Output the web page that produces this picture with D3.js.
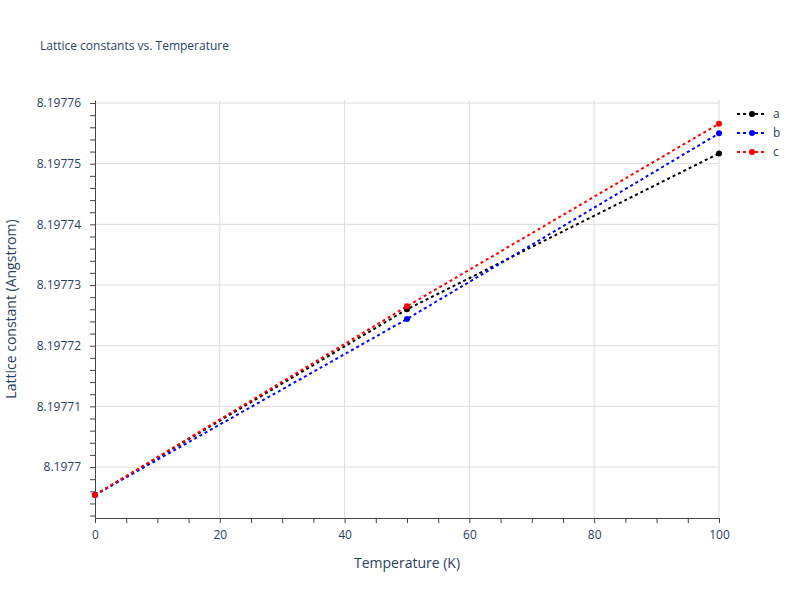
<!DOCTYPE html>
<html>
<head>
<meta charset="utf-8">
<script src="https://cdn.jsdelivr.net/npm/d3@7"></script>
<style>
body { margin: 0; background: #fff; }
text { font-family: "Open Sans", Arial, sans-serif; fill: #2a3f5f; }
</style>
</head>
<body>
<div id="chart"></div>
<script>
// data
const temperatures = [0, 50, 100];
const seriesNames = ['a', 'b', 'c'];
const seriesColors = ['black', 'blue', 'red'];
const valuesA = [8.1976954, 8.1977260, 8.1977517];
const valuesB = [8.1976954, 8.1977244, 8.1977550];
const valuesC = [8.1976954, 8.1977265, 8.1977566];
const xTicks = [0, 20, 40, 60, 80, 100];
const yTicks = [8.1977, 8.19771, 8.19772, 8.19773, 8.19774, 8.19775, 8.19776];

const width = 800, height = 600;
const margin = {top: 100, bottom: 82, left: 95, right: 81};
const allSeries = [valuesA, valuesB, valuesC];

const svg = d3.select('#chart').append('svg')
    .attr('width', width).attr('height', height);

const x = d3.scaleLinear([0, 100], [margin.left, width - margin.right]);
const y = d3.scaleLinear([8.1976916, 8.1977605], [height - margin.bottom, margin.top]);

// grid
svg.append('g').selectAll('line').data(xTicks.slice(1)).join('line')
    .attr('x1', d => x(d)).attr('x2', d => x(d))
    .attr('y1', margin.top).attr('y2', height - margin.bottom)
    .attr('stroke', '#dcdcdc');
svg.append('g').selectAll('line').data(yTicks).join('line')
    .attr('x1', margin.left).attr('x2', width - margin.right)
    .attr('y1', d => y(d)).attr('y2', d => y(d))
    .attr('stroke', '#dcdcdc');

// axes
const fmtY = d => d3.format('.5f')(d).replace(/0+$/, '').replace(/\.$/, '');
const axisX = svg.append('g')
    .attr('transform', `translate(0,${height - margin.bottom})`)
    .call(d3.axisBottom(x).tickValues(xTicks).tickSize(0).tickPadding(12));
const axisY = svg.append('g')
    .attr('transform', `translate(${margin.left},0)`)
    .call(d3.axisLeft(y).tickValues(yTicks).tickFormat(fmtY).tickSize(0).tickPadding(14));
[axisX, axisY].forEach(a => {
    a.select('.domain').attr('stroke', '#444');
    a.selectAll('text').style('font-size', '12px').style('fill', '#2a3f5f')
        .style('font-family', '"Open Sans", Arial, sans-serif');
});
// minor ticks
svg.append('g').attr('transform', `translate(0,${height - margin.bottom})`)
    .call(d3.axisBottom(x).tickValues(d3.range(0, 101, 5)).tickSize(5).tickFormat(''))
    .call(g => g.select('.domain').remove())
    .selectAll('line').attr('stroke', '#444');
svg.append('g').attr('transform', `translate(${margin.left},0)`)
    .call(d3.axisLeft(y).tickValues(d3.range(8.197692, 8.1977605, 0.000002)).tickSize(5).tickFormat(''))
    .call(g => g.select('.domain').remove())
    .selectAll('line').attr('stroke', '#444');

// labels
svg.append('text').attr('x', (margin.left + width - margin.right) / 2).attr('y', 568)
    .attr('text-anchor', 'middle').style('font-size', '14px').text('Temperature (K)');
svg.append('text').attr('transform', `translate(16,${(margin.top + height - margin.bottom) / 2})rotate(-90)`)
    .attr('text-anchor', 'middle').style('font-size', '14px').text('Lattice constant (Angstrom)');
svg.append('text').attr('x', 40).attr('y', 50).style('font-size', '12px')
    .text('Lattice constants vs. Temperature');

// series
const line = d3.line().x((d, i) => x(temperatures[i])).y(d => y(d));
allSeries.forEach((vals, k) => {
    const g = svg.append('g');
    g.append('path').attr('d', line(vals)).attr('fill', 'none')
        .attr('stroke', seriesColors[k]).attr('stroke-width', 2).attr('stroke-dasharray', '3,3');
    g.selectAll('circle').data(vals).join('circle')
        .attr('cx', (d, i) => x(temperatures[i])).attr('cy', d => y(d))
        .attr('r', 3).attr('fill', seriesColors[k]);
});

// legend
const legend = svg.append('g').attr('transform', 'translate(737,114)');
seriesNames.forEach((name, k) => {
    const row = legend.append('g').attr('transform', `translate(0,${k * 19})`);
    row.append('line').attr('x1', 0).attr('x2', 30).attr('stroke', seriesColors[k])
        .attr('stroke-width', 2).attr('stroke-dasharray', '3,3');
    row.append('circle').attr('cx', 15).attr('r', 3).attr('fill', seriesColors[k]);
    row.append('text').attr('x', 36).attr('y', 4).style('font-size', '12px').text(name);
});
</script>
</body>
</html>
